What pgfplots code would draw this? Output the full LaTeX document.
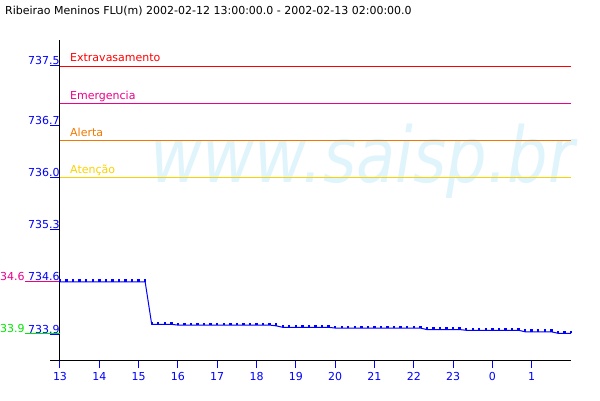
\documentclass[border=0pt]{standalone}
\usepackage{fontspec}
\setmainfont{DejaVu Sans}
\usepackage{pgfplots}
\pgfplotsset{compat=1.18}
\definecolor{lineblue}{RGB}{0,0,255}
\definecolor{alertaor}{RGB}{240,120,0}
\definecolor{atencaoy}{RGB}{250,210,0}
\definecolor{minverde}{RGB}{0,230,0}
\definecolor{marca}{RGB}{224,244,252}

\begin{document}
\begin{tikzpicture}
\useasboundingbox (0pt,0pt) rectangle (600pt,400pt);
\fontsize{11}{13}\selectfont

% title
\node[anchor=base west, inner sep=0pt] at (5pt,385pt)
  {Ribeirao Meninos FLU(m) 2002-02-12 13:00:00.0 - 2002-02-13 02:00:00.0};

% watermark
\node[anchor=base west, inner sep=0pt, text=marca, xscale=0.83,
      font=\fontsize{77}{77}\selectfont\itshape] at (150pt,218pt) {www.saisp.br};

\begin{axis}[
    at={(60pt,40pt)}, anchor=south west,
    scale only axis,
    width=511pt, height=320pt,
    xmin=13, xmax=26,
    ymin=733.551, ymax=737.849,
    axis lines*=left,
    axis line style={line width=1pt},
    clip=false,
    tick align=outside,
    tickpos=left,
    every tick/.style={draw=lineblue, line width=1pt},
    xtick={13,...,25},
    xticklabels={13,14,15,16,17,18,19,20,21,22,23,0,1},
    ytick={733.9,734.6,735.3,736.0,736.7,737.5},
    yticklabels={733.9,734.6,735.3,736.0,736.7,737.5},
    xtick style={/pgfplots/major tick length=8pt},
    ytick style={/pgfplots/major tick length=10pt},
    ticklabel style={text=lineblue, font=\fontsize{11}{13}\selectfont},
    xticklabel style={anchor=north, inner sep=0pt, yshift=-8pt},
    yticklabel style={anchor=base east, inner sep=0pt, yshift=1pt, xshift=4pt},
    /pgf/number format/assume math mode=true,
]

% threshold levels
\addplot[red, line width=0.9pt] coordinates {(13,737.5) (26,737.5)};
\addplot[magenta, line width=0.9pt] coordinates {(13,737.0) (26,737.0)};
\addplot[alertaor, line width=0.9pt] coordinates {(13,736.5) (26,736.5)};
\addplot[atencaoy, line width=0.9pt] coordinates {(13,736.0) (26,736.0)};

\node[anchor=base west, text=red, inner sep=0pt, xshift=10pt, yshift=4pt] at (axis cs:13,737.5) {Extravasamento};
\node[anchor=base west, text=magenta, inner sep=0pt, xshift=10pt, yshift=4pt] at (axis cs:13,737.0) {Emergencia};
\node[anchor=base west, text=alertaor, inner sep=0pt, xshift=10pt, yshift=4pt] at (axis cs:13,736.5) {Alerta};
\node[anchor=base west, text=atencaoy, inner sep=0pt, xshift=10pt, yshift=4pt] at (axis cs:13,736.0) {Atenção};

% max / min markers on the left
\addplot[magenta, line width=1pt] coordinates {(12.108,734.6) (13,734.6)};
\node[anchor=base east, text=magenta, inner sep=0pt, yshift=1pt] at (axis cs:12.108,734.6) {734.6};
\addplot[minverde, line width=1pt] coordinates {(12.108,733.91) (13,733.91)};
\node[anchor=base east, text=minverde, inner sep=0pt, yshift=1pt] at (axis cs:12.108,733.91) {733.9};

% level series, one reading every 10 minutes
\addplot[lineblue, line width=1pt, mark=square*, mark size=0.7pt,
         mark options={yshift=1.2pt, draw=lineblue, fill=lineblue}] coordinates {
(13.0000,734.60) (13.1667,734.60) (13.3333,734.60) (13.5000,734.60)
(13.6667,734.60) (13.8333,734.60) (14.0000,734.60) (14.1667,734.60)
(14.3333,734.60) (14.5000,734.60) (14.6667,734.60) (14.8333,734.60)
(15.0000,734.60) (15.1667,734.60) (15.3333,734.03) (15.5000,734.03)
(15.6667,734.03) (15.8333,734.03) (16.0000,734.02) (16.1667,734.02)
(16.3333,734.02) (16.5000,734.02) (16.6667,734.02) (16.8333,734.02)
(17.0000,734.02) (17.1667,734.02) (17.3333,734.02) (17.5000,734.02)
(17.6667,734.02) (17.8333,734.02) (18.0000,734.02) (18.1667,734.02)
(18.3333,734.02) (18.5000,734.01) (18.6667,733.99) (18.8333,733.99)
(19.0000,733.99) (19.1667,733.99) (19.3333,733.99) (19.5000,733.99)
(19.6667,733.99) (19.8333,733.99) (20.0000,733.98) (20.1667,733.98)
(20.3333,733.98) (20.5000,733.98) (20.6667,733.98) (20.8333,733.98)
(21.0000,733.98) (21.1667,733.98) (21.3333,733.98) (21.5000,733.98)
(21.6667,733.98) (21.8333,733.98) (22.0000,733.98) (22.1667,733.98)
(22.3333,733.96) (22.5000,733.96) (22.6667,733.96) (22.8333,733.96)
(23.0000,733.96) (23.1667,733.96) (23.3333,733.95) (23.5000,733.95)
(23.6667,733.95) (23.8333,733.95) (24.0000,733.95) (24.1667,733.95)
(24.3333,733.95) (24.5000,733.95) (24.6667,733.95) (24.8333,733.93)
(25.0000,733.93) (25.1667,733.93) (25.3333,733.93) (25.5000,733.93)
(25.6667,733.91) (25.8333,733.91) (26.0000,733.91)
};

% x axis line reaches a little left of the y axis
\draw[black, line width=1pt] (rel axis cs:0,0) -- ++(-10pt,0pt);
\end{axis}
\end{tikzpicture}
\end{document}
